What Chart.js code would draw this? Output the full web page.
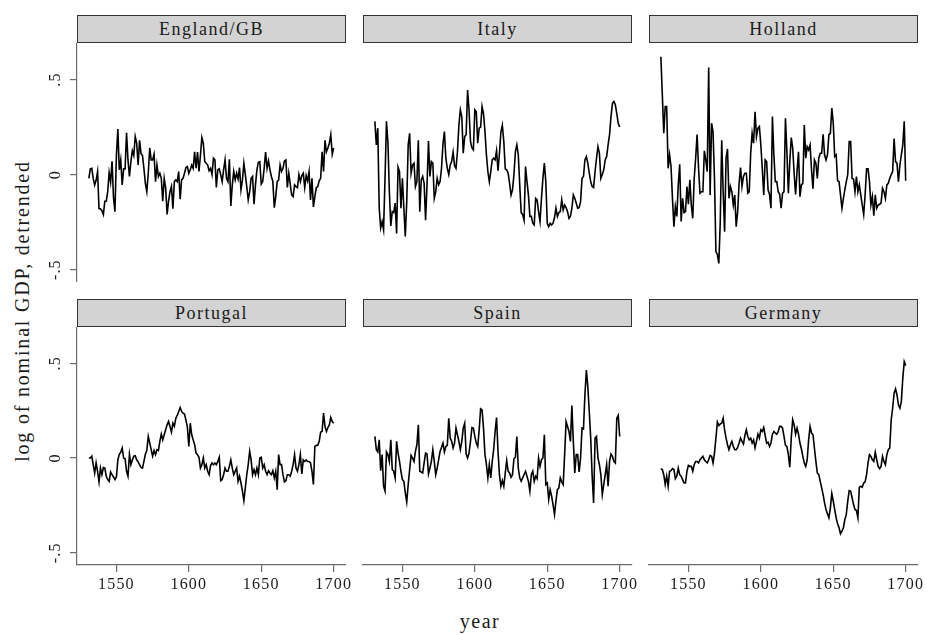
<!DOCTYPE html>
<html>
<head>
<meta charset="utf-8">
<script src="https://cdn.jsdelivr.net/npm/chart.js@4.4.1/dist/chart.umd.min.js"></script>
<style>
  html, body { margin: 0; padding: 0; background: #fff; }
  #fig { position: relative; width: 927px; height: 635px; overflow: hidden;
         font-family: "Liberation Serif", "Times New Roman", serif; color: #1a1a1a; }
  .strip { position: absolute; box-sizing: border-box; background: #d3d3d3;
           border: 1px solid #333; font-size: 18px; letter-spacing: 1.5px;
           text-align: center; line-height: 26px; white-space: nowrap; }
  canvas { position: absolute; }
  .ytitle { position: absolute; left: 22px; top: 311px; font-size: 20px; letter-spacing: 1.8px;
            white-space: nowrap; transform: translate(-50%, -50%) rotate(-90deg); }
  .xtitle { position: absolute; left: 480px; top: 621px; font-size: 20px; letter-spacing: 1.5px;
            white-space: nowrap; transform: translate(-50%, -50%); }
</style>
</head>
<body>
<div id="fig">
  <div class="ytitle">log of nominal GDP, detrended</div>
  <div class="xtitle">year</div>
</div>
<script>
// ---- data: log nominal GDP, detrended, annual 1531-1700 ----
const countries = ['England/GB', 'Italy', 'Holland', 'Portugal', 'Spain', 'Germany'];
const firstYear = 1531;
const lastYear = 1700;
const years = [];
for (let y = firstYear; y <= lastYear; y++) years.push(y);

const xTicks = [1550, 1600, 1650, 1700];
const yTicks = [-0.5, 0, 0.5];
const yTickLabels = ['-.5', '0', '.5'];

const england = [
  -0.02, 0.03, 0.033, -0.02, -0.054, -0.03, 0.016, -0.18, -0.18, -0.19, -0.21, -0.14,
  -0.14, -0.09, 0.01, -0.04, 0.07, -0.12, -0.195, 0.10, 0.24, 0.025,
  0.077, -0.054, 0.03, 0.03, 0.22, 0.077, -0.01, 0.068, 0.125, 0.10,
  0.20, 0.165, 0.05, 0.18, 0.11, 0.10, 0.033, -0.046, -0.09, 0.007,
  0.14, 0.077, 0.077, 0.107, -0.037, 0.05, -0.01, 0.007, -0.02, -0.14,
  -0.02, -0.07, -0.21, -0.14, -0.09, -0.063, -0.18, -0.037, -0.028, -0.037,
  0.016, -0.13, -0.028, -0.02, 0.007, 0.037, 0.042, 0.007, 0.025, 0.05,
  0.033, 0.12, 0.033, 0.118, 0.016, 0.10, 0.195, 0.165, 0.068, 0.06,
  0.05, 0.02, 0.033, 0.0, 0.086, 0.077, -0.068, 0.025, 0.03, 0.0,
  -0.037, 0.025, 0.077, -0.02, -0.037, 0.08, -0.165, -0.054, 0.016, -0.028,
  0.007, -0.023, 0.037, -0.08, -0.028, 0.06, 0.0, -0.063, -0.133, -0.09,
  -0.02, -0.01, -0.156, -0.054, 0.025, 0.065, 0.068, -0.05, -0.037, 0.033,
  0.118, 0.033, 0.072, 0.025, -0.01, -0.037, -0.174, -0.116, -0.037, -0.028,
  0.05, 0.016, 0.033, 0.072, 0.077, -0.068, 0.007, -0.05, -0.107, -0.116,
  -0.054, -0.063, -0.068, 0.0, -0.037, -0.005, 0.007, -0.068, -0.005,
  -0.033, 0.016, -0.133, -0.02, -0.17, -0.116, -0.068, -0.063, -0.033, -0.02,
  0.12, 0.016, 0.18, 0.12, 0.14, 0.165, 0.21, 0.107, 0.14
];

const italy = [
  0.28, 0.156, 0.244, -0.177, -0.28, -0.247, -0.29, -0.02, 0.28, 0.17,
  -0.09, -0.27, -0.195, -0.2, -0.15, -0.31, 0.04, 0.016, -0.177, -0.02,
  -0.177, -0.326, -0.142, 0.156, 0.217, 0.007, 0.05, 0.06, -0.063,
  -0.037, 0.18, -0.195, -0.028, -0.01, -0.046, -0.24, -0.054, 0.177, -0.01,
  0.068, 0.06, -0.125, -0.09, -0.02, -0.054, -0.037, 0.033, 0.16, 0.226,
  0.086, 0.033, 0.0, 0.05, 0.068, 0.118, 0.047, 0.033, 0.12,
  0.26, 0.34, 0.305, 0.112, 0.2, 0.21, 0.445, 0.34, 0.174, 0.14,
  0.13, 0.34, 0.33, 0.165, 0.244, 0.25, 0.358, 0.32, 0.226, 0.104,
  0.016, -0.037, 0.016, 0.077, 0.086, 0.077, 0.125, 0.02, 0.112, 0.223,
  0.26, 0.174, 0.03, 0.025, 0.007, -0.046, -0.107, -0.08, 0.0,
  0.12, 0.156, 0.104, -0.054, -0.2, -0.21, -0.24, 0.042, -0.037, -0.107,
  -0.22, -0.22, -0.256, -0.265, -0.125, -0.133, -0.195, -0.247, -0.125,
  -0.02, 0.06, -0.037, -0.256, -0.274, -0.256, -0.265, -0.256, -0.226, -0.177,
  -0.22, -0.2, -0.195, -0.133, -0.186, -0.16, -0.174, -0.195, -0.23,
  -0.22, -0.177, -0.107, -0.125, -0.15, -0.177, -0.174, -0.142, -0.02, -0.01,
  0.077, 0.095, 0.06, 0.007, -0.037, -0.063, -0.068, 0.016, 0.086, 0.147,
  0.112, -0.02, 0.0, 0.025, 0.077, 0.095, 0.156, 0.21, 0.305, 0.375,
  0.384, 0.367, 0.32, 0.27, 0.25
];

const holland = [
  0.62, 0.42, 0.218, 0.358, 0.358, 0.033, 0.104, 0.042, -0.125,
  -0.274, -0.168, -0.22, -0.054, 0.054, -0.247, -0.125, -0.2, -0.195, -0.063,
  -0.156, -0.028, -0.16, -0.23, -0.02, 0.086, 0.21, 0.033, -0.098, -0.09,
  -0.09, 0.125, 0.077, 0.016, 0.563, -0.107, 0.27, 0.226, -0.02,
  -0.405, -0.42, -0.467, -0.247, 0.18, -0.09, -0.3, 0.086, 0.135,
  -0.125, -0.063, -0.09, -0.16, -0.107, -0.274, -0.195, -0.046, 0.037,
  -0.063, -0.01, 0.007, 0.007, -0.098, -0.09, 0.112, 0.217, 0.165, 0.33,
  0.2, 0.244, 0.253, 0.156, 0.033, -0.107, 0.077, 0.068, -0.08, -0.104,
  -0.177, 0.305, 0.104, -0.037, -0.037, -0.09, -0.104, -0.177, -0.098,
  -0.09, 0.296, 0.12, -0.098, 0.068, 0.195, 0.14, 0.007, -0.104, 0.016,
  0.12, -0.116, -0.054, -0.046, 0.26, 0.086, 0.147, 0.13, 0.156,
  0.025, -0.075, 0.077, 0.06, -0.02, 0.086, 0.112, 0.112, 0.212, 0.104,
  0.077, 0.104, 0.21, 0.217, 0.35, 0.27, 0.095, 0.104, -0.033,
  -0.037, -0.107, -0.177, -0.125, -0.08, -0.037, 0.0, 0.174, 0.174, -0.02,
  -0.023, -0.09, -0.01, -0.09, -0.054, -0.107, -0.16, -0.21, -0.107, 0.03,
  0.03, -0.037, -0.16, -0.116, -0.216, -0.107, -0.177, -0.16, -0.156,
  -0.15, -0.072, -0.09, -0.125, -0.054, -0.046, -0.02, 0.0, 0.016, 0.19,
  0.068, 0.06, -0.037, 0.05, 0.104, 0.156, 0.28, -0.033
];

const portugal = [
  0.0, 0.0, 0.01, -0.035, -0.08, -0.026, -0.07, -0.126, -0.053, -0.088,
  -0.05, -0.053, -0.096, -0.114, -0.123, -0.074, -0.088, -0.1, -0.114,
  -0.1, -0.01, 0.02, 0.03, 0.053, 0.0, -0.004, -0.07, -0.096, 0.02,
  -0.035, -0.01, 0.01, 0.012, -0.01, -0.02, -0.035, -0.05, -0.053,
  -0.018, 0.02, 0.04, 0.114, 0.08, 0.044, 0.01, 0.04, 0.018,
  0.044, 0.04, 0.088, 0.126, 0.096, 0.123, 0.15, 0.175, 0.193, 0.167,
  0.137, 0.184, 0.167, 0.21, 0.225, 0.246, 0.267, 0.246, 0.237, 0.232,
  0.2, 0.163, 0.061, 0.184, 0.123, 0.096, 0.07, 0.026, 0.018, 0.004,
  -0.053, -0.035, 0.0, -0.053, -0.035, -0.07, -0.088, -0.04, -0.026,
  -0.035, -0.026, -0.035, -0.018, 0.004, -0.12, -0.114, -0.088, -0.053, -0.07,
  -0.07, -0.044, -0.01, -0.053, -0.088, -0.07, -0.053, -0.123, -0.096,
  -0.132, -0.175, -0.225, -0.158, -0.088, -0.035, 0.035, -0.01, -0.088, -0.061,
  -0.088, -0.053, -0.088, 0.0, 0.004, -0.053, -0.035, -0.07, -0.088,
  -0.067, -0.079, -0.088, -0.067, -0.105, -0.07, -0.167, 0.018, -0.035, -0.035,
  -0.088, -0.126, -0.12, -0.088, -0.088, -0.096, -0.07, -0.035, 0.018, -0.053,
  -0.07, -0.035, 0.018, -0.084, -0.01, -0.018, -0.01, -0.018, -0.018,
  -0.026, -0.07, -0.14, 0.061, 0.067, 0.067, 0.088, 0.137, 0.14, 0.237,
  0.167, 0.14, 0.161, 0.175, 0.214, 0.193, 0.184
];

const spain = [
  0.114, 0.044, 0.032, 0.096, -0.067, 0.018, -0.149, -0.175, 0.032, 0.018,
  -0.018, 0.096, -0.061, -0.07, -0.105, 0.088, 0.026, -0.018, -0.07,
  -0.114, -0.123, -0.184, -0.232, -0.14, -0.061, 0.014, 0.0, -0.018,
  0.035, 0.07, 0.175, -0.07, -0.074, -0.079, -0.026, 0.026, 0.021, -0.084,
  -0.053, -0.018, 0.044, -0.018, -0.088, -0.053, -0.01, 0.035, 0.056,
  0.079, 0.032, 0.061, 0.067, 0.21, 0.105, 0.088, 0.053, 0.079,
  0.158, 0.123, 0.088, 0.044, 0.088, 0.158, 0.184, 0.021, 0.0, 0.026,
  0.088, 0.161, 0.158, 0.114, 0.079, 0.061, 0.149, 0.26, 0.254,
  0.158, 0.018, -0.035, -0.105, -0.035, -0.105, -0.018, 0.044, 0.14, 0.214,
  0.035, -0.088, -0.149, -0.119, -0.149, -0.079, -0.014, -0.07, -0.079, -0.102,
  -0.088, -0.004, 0.004, 0.114, -0.053, -0.105, -0.123, -0.105, -0.088,
  -0.07, -0.096, -0.123, -0.175, -0.088, -0.07, -0.123, -0.096, -0.109,
  0.0, -0.044, -0.009, 0.0, 0.123, -0.14, -0.132, -0.219, -0.167, -0.202,
  -0.246, -0.298, -0.228, -0.167, -0.158, -0.105, -0.126, -0.14, 0.018, 0.193,
  0.167, 0.14, 0.088, 0.277, 0.088, -0.079, 0.018, 0.018, -0.074, 0.0,
  0.158, 0.154, 0.333, 0.465, 0.377, 0.246, 0.105, -0.096, -0.237, 0.105,
  0.114, 0.0, -0.035, -0.088, -0.193, -0.14, -0.088, -0.035, -0.149,
  -0.018, 0.021, 0.009, -0.018, -0.026, 0.21, 0.225, 0.114
];

const germany = [
  -0.056, -0.061, -0.088, -0.14, -0.096, -0.149, -0.07, -0.067, -0.056,
  -0.061, -0.109, -0.096, -0.053, -0.088, -0.096, -0.114, -0.132, -0.132,
  -0.07, -0.039, -0.044, -0.044, -0.07, -0.035, -0.018, -0.018, -0.026,
  -0.009, 0.0, 0.009, -0.009, -0.018, -0.026, -0.009, 0.014, 0.009, -0.026,
  0.026, 0.105, 0.19, 0.172, 0.18, 0.184, 0.21, 0.149, 0.105, 0.07,
  0.044, 0.07, 0.088, 0.061, 0.044, 0.044, 0.056, 0.079, 0.105,
  0.088, 0.074, 0.119, 0.149, 0.114, 0.096, 0.105, 0.079, 0.096,
  0.053, 0.088, 0.126, 0.105, 0.149, 0.14, 0.161, 0.119, 0.079,
  0.084, 0.061, 0.079, 0.126, 0.14, 0.132, 0.126, 0.14, 0.167,
  0.167, 0.158, 0.114, 0.067, 0.061, 0.018, -0.049, 0.105, 0.202, 0.175,
  0.126, 0.158, 0.126, 0.079, 0.049, 0.009, -0.026, -0.044, -0.009,
  0.096, 0.167, 0.132, 0.123, 0.053, -0.018, -0.079, -0.088, -0.123, -0.158,
  -0.193, -0.237, -0.272, -0.295, -0.316, -0.263, -0.188, -0.228, -0.272,
  -0.316, -0.347, -0.368, -0.4, -0.386, -0.368, -0.325, -0.298, -0.228,
  -0.172, -0.175, -0.21, -0.246, -0.272, -0.277, -0.316, -0.154, -0.149,
  -0.154, -0.132, -0.126, -0.088, -0.026, 0.018, 0.009, -0.009, -0.018,
  0.03, -0.009, -0.044, -0.056, -0.044, 0.009, -0.018, -0.035, 0.018,
  0.044, 0.053, 0.202, 0.263, 0.342, 0.365, 0.333, 0.281, 0.263, 0.298,
  0.421, 0.509, 0.488
];

const seriesByCountry = [england, italy, holland, portugal, spain, germany];

// ---- layout of the 2 x 3 grid of panels ----
const colLefts = [77, 363, 649];
const plotW = 269;
const rowPlotTops = [43, 327];
const rowPlotH = [239, 238];
const stripH = 28;
const yAxisW = 40;      // room left of each plot for ticks / labels
const rightPad = 20;    // overhang for the last x label
const xAxisH = 40;      // bottom row x-axis block
const xRange = [1522.8, 1708.5];
const yRange = [-0.565, 0.692];
const axisColor = '#6b6b6b';
const textColor = '#1a1a1a';
const fontFamily = '"Liberation Serif", "Times New Roman", serif';

// Vertical-axis labels are drawn turned a quarter turn, reading upward.
const rotatedYLabels = {
  id: 'rotatedYLabels',
  beforeDraw(chart) {
    chart.ctx.letterSpacing = '1.2px';
  },
  afterDraw(chart, args, opts) {
    if (!opts.show) return;
    const { ctx, chartArea } = chart;
    const ys = chart.scales.y;
    ctx.save();
    ctx.font = '16px ' + fontFamily;
    ctx.fillStyle = textColor;
    ctx.textAlign = 'center';
    ctx.textBaseline = 'middle';
    yTicks.forEach((v, i) => {
      const py = ys.getPixelForValue(v);
      ctx.save();
      ctx.translate(chartArea.left - 21, py);
      ctx.rotate(-Math.PI / 2);
      ctx.fillText(yTickLabels[i], 0, 0);
      ctx.restore();
    });
    ctx.restore();
  }
};

const fig = document.getElementById('fig');

countries.forEach((name, k) => {
  const row = Math.floor(k / 3);
  const col = k % 3;
  const left = colLefts[col];
  const plotTop = rowPlotTops[row];
  const isBottom = row === 1;

  // panel header strip
  const strip = document.createElement('div');
  strip.className = 'strip';
  strip.style.left = left + 'px';
  strip.style.top = (plotTop - stripH) + 'px';
  strip.style.width = plotW + 'px';
  strip.style.height = stripH + 'px';
  strip.textContent = name;
  fig.appendChild(strip);

  // chart canvas
  const canvas = document.createElement('canvas');
  const cw = yAxisW + plotW + rightPad;
  const ch = rowPlotH[row] + (isBottom ? xAxisH : 0);
  canvas.width = cw;
  canvas.height = ch;
  canvas.style.width = cw + 'px';
  canvas.style.height = ch + 'px';
  canvas.style.left = (left - yAxisW) + 'px';
  canvas.style.top = plotTop + 'px';
  fig.appendChild(canvas);

  const values = seriesByCountry[k];
  const points = values.map((v, i) => ({ x: years[i], y: v }));

  new Chart(canvas, {
    type: 'line',
    data: {
      datasets: [{
        label: name,
        data: points,
        borderColor: '#000',
        borderWidth: 1.6,
        pointRadius: 0,
        tension: 0,
        fill: false
      }]
    },
    options: {
      responsive: false,
      animation: false,
      devicePixelRatio: 1,
      layout: { padding: { left: 0, top: 0, right: rightPad, bottom: 0 } },
      plugins: {
        legend: { display: false },
        tooltip: { enabled: false },
        rotatedYLabels: { show: col === 0 }
      },
      scales: {
        x: {
          type: 'linear',
          min: xRange[0],
          max: xRange[1],
          display: isBottom,
          afterBuildTicks: s => { s.ticks = xTicks.map(v => ({ value: v })); },
          afterFit: s => {
            s.height = isBottom ? xAxisH : 0;
            s.paddingLeft = 0;
            s.paddingRight = 0;
          },
          ticks: {
            autoSkip: false, maxRotation: 0, minRotation: 0, padding: 3,
            color: textColor,
            font: { family: fontFamily, size: 16 },
            callback: v => String(v)
          },
          grid: { drawOnChartArea: false, drawTicks: true, tickLength: 7, color: axisColor, lineWidth: 1.2 },
          border: { display: true, color: axisColor, width: 1.2 }
        },
        y: {
          type: 'linear',
          min: yRange[0],
          max: yRange[1],
          afterBuildTicks: s => { s.ticks = yTicks.map(v => ({ value: v })); },
          afterFit: s => { s.width = yAxisW; s.paddingTop = 0; s.paddingBottom = 0; },
          ticks: { display: false },
          grid: { drawOnChartArea: false, drawTicks: col === 0, tickLength: 7, color: axisColor, lineWidth: 1.2 },
          border: { display: col === 0, color: axisColor, width: 1.2 }
        }
      }
    },
    plugins: [rotatedYLabels]
  });
});
</script>
</body>
</html>
